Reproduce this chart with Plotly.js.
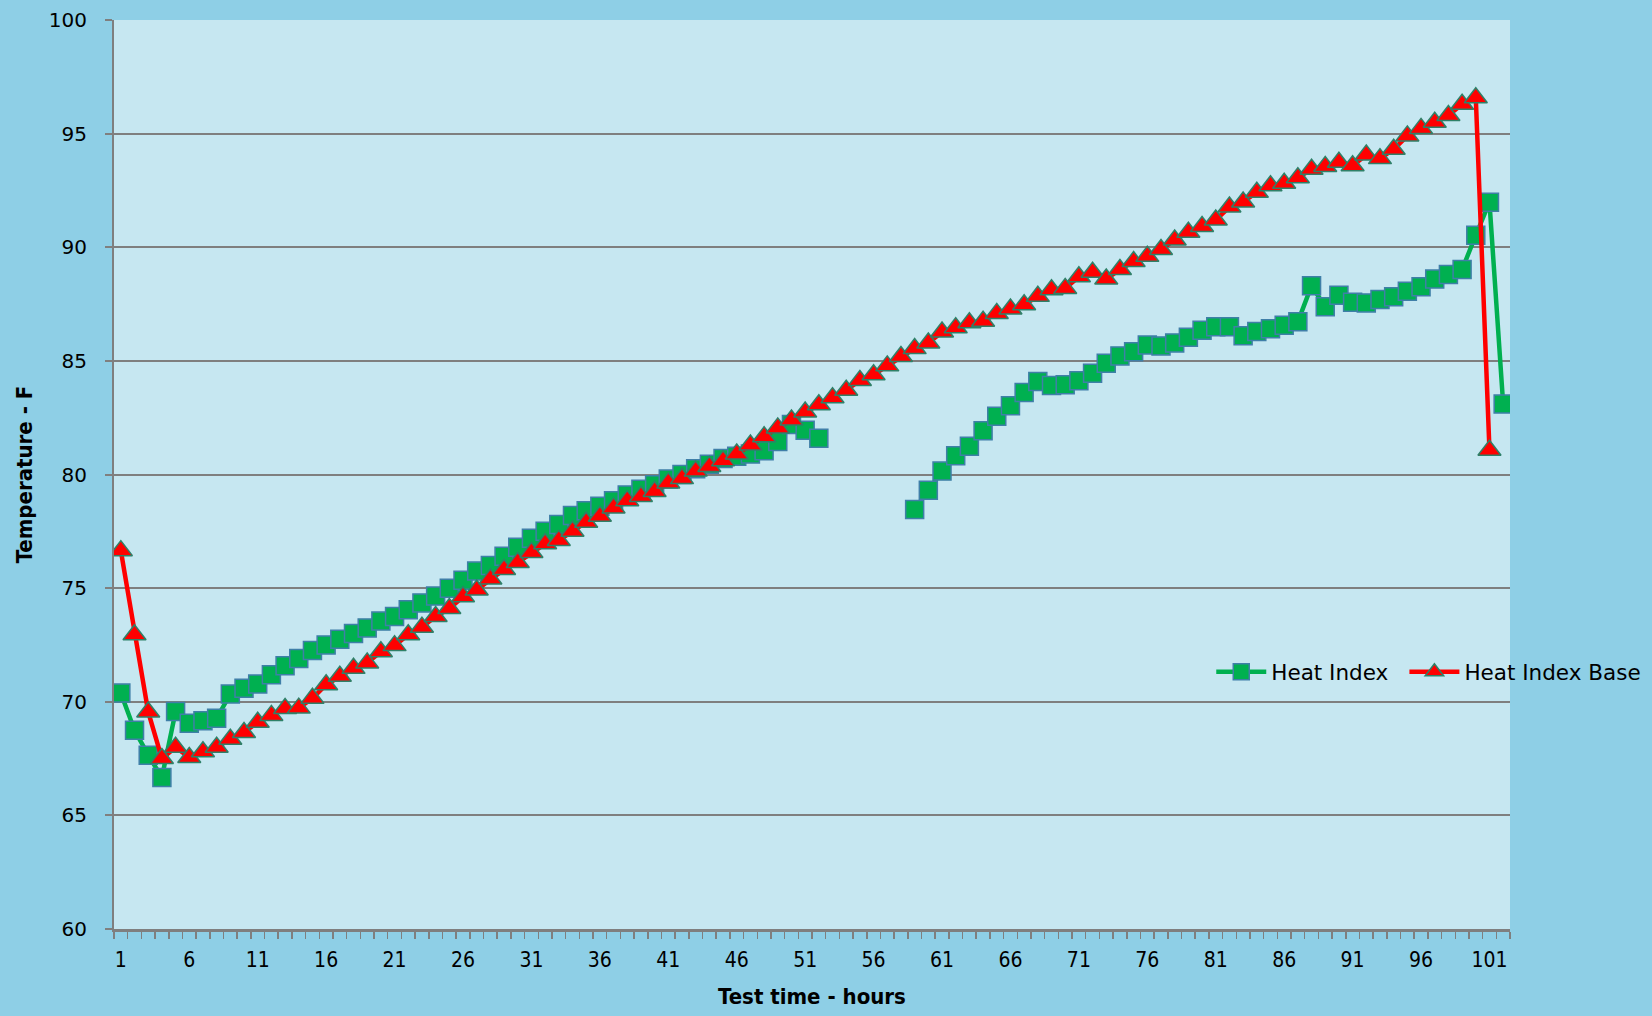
<!DOCTYPE html>
<html>
<head>
<meta charset="utf-8">
<script src="https://cdn.plot.ly/plotly-3.0.1.min.js"></script>
<style>
  html, body { margin: 0; padding: 0; background: #8ECFE6; }
  #chart { width: 1652px; height: 1016px; }
</style>
</head>
<body>
<div id="chart"></div>
<script>
// Test time - hours (categories)
const hours = [1,2,3,4,5,6,7,8,9,10,11,12,13,14,15,16,17,18,19,20,
  21,22,23,24,25,26,27,28,29,30,31,32,33,34,35,36,37,38,39,40,
  41,42,43,44,45,46,47,48,49,50,51,52,53,54,55,56,57,58,59,60,
  61,62,63,64,65,66,67,68,69,70,71,72,73,74,75,76,77,78,79,80,
  81,82,83,84,85,86,87,88,89,90,91,92,93,94,95,96,97,98,99,100,
  101,102];

// Heat Index (green squares)
const heatIndex = [70.38,68.75,67.65,66.67,69.57,69.05,69.16,69.27,70.34,70.59,
  70.78,71.19,71.58,71.9,72.25,72.5,72.75,73.0,73.25,73.55,
  73.75,74.05,74.35,74.65,75.0,75.35,75.75,76.0,76.4,76.8,
  77.2,77.5,77.8,78.2,78.4,78.6,78.85,79.1,79.35,79.55,
  79.8,80.0,80.25,80.45,80.7,80.8,80.9,81.05,81.45,82.2,
  81.95,81.6,null,null,null,null,null,null,78.46,79.31,
  80.15,80.83,81.24,81.93,82.56,83.03,83.61,84.09,83.92,83.95,
  84.12,84.46,84.9,85.22,85.4,85.7,85.66,85.79,86.04,86.35,
  86.5,86.5,86.11,86.29,86.41,86.57,86.72,88.31,87.38,87.89,
  87.58,87.55,87.7,87.82,88.06,88.26,88.6,88.8,89.02,90.53,
  91.98,83.1];

// Heat Index Base (red triangles)
const heatIndexBase = [76.65,72.95,69.55,67.5,68.0,67.55,67.8,68.0,68.35,68.65,
  69.1,69.4,69.7,69.72,70.15,70.75,71.12,71.47,71.71,72.2,
  72.47,72.95,73.28,73.75,74.1,74.62,74.92,75.4,75.82,76.13,
  76.57,76.95,77.1,77.5,77.9,78.16,78.53,78.85,79.03,79.25,
  79.63,79.82,80.15,80.35,80.6,80.9,81.3,81.66,82.05,82.4,
  82.75,83.07,83.38,83.71,84.14,84.39,84.78,85.19,85.54,85.79,
  86.27,86.46,86.68,86.74,87.09,87.28,87.47,87.84,88.13,88.19,
  88.7,88.9,88.6,89.02,89.37,89.6,89.9,90.32,90.66,90.91,
  91.2,91.77,91.99,92.42,92.71,92.82,93.06,93.43,93.55,93.74,
  93.59,94.06,93.9,94.31,94.9,95.23,95.5,95.8,96.29,96.58,
  81.07,null];

// Tick labels
const xTickLabels = [1,6,11,16,21,26,31,36,41,46,51,56,61,66,71,76,81,86,91,96,101];
const yTickLabels = [60,65,70,75,80,85,90,95,100];

const narrowFont = "'Liberation Sans Narrow', 'DejaVu Sans Condensed', Roboto, 'Liberation Sans', sans-serif";

const traces = [
  {
    x: hours, y: heatIndex, name: 'Heat Index\u00A0\u2009',
    type: 'scatter', mode: 'lines+markers',
    line: { color: '#00B050', width: 4.5 },
    marker: { symbol: 'square', size: 18, color: '#00B050',
              line: { color: '#3F7FA8', width: 1.5 } },
    connectgaps: false
  },
  {
    x: hours, y: heatIndexBase, name: 'Heat Index Base',
    type: 'scatter', mode: 'lines+markers',
    line: { color: '#FF0000', width: 4.5 },
    marker: { symbol: 'triangle-up', size: 20, color: '#FF0000',
              line: { color: '#2F8068', width: 1.5 } },
    connectgaps: false
  }
];

const layout = {
  width: 1652, height: 1016,
  paper_bgcolor: '#8ECFE6',
  plot_bgcolor: '#C6E7F1',
  margin: { l: 114, r: 142, t: 20, b: 87, autoexpand: false },
  showlegend: true,
  legend: {
    orientation: 'h', x: 0.786, xanchor: 'left', y: 0.283, yanchor: 'middle',
    bgcolor: 'rgba(0,0,0,0)',
    font: { family: 'DejaVu Sans', size: 21.5, color: '#000000' },
    itemwidth: 50
  },
  xaxis: {
    type: 'linear',
    range: [0.5, 102.5],
    tickmode: 'array', tickvals: xTickLabels, ticktext: xTickLabels.map(String),
    ticks: '', ticklabelstandoff: 10,
    minor: { tick0: 0.5, dtick: 1, ticks: 'outside', ticklen: 7, tickwidth: 1.5, tickcolor: '#7F7F7F', showgrid: false },
    showgrid: false, zeroline: false,
    showline: true, linecolor: '#7F7F7F', linewidth: 3,
    tickfont: { family: narrowFont, size: 21, color: '#000000' },
    title: { text: 'Test time - hours', standoff: 18,
             font: { family: narrowFont, size: 22, color: '#000000', weight: 'bold' } }
  },
  yaxis: {
    range: [60, 100],
    tickmode: 'array', tickvals: yTickLabels, ticktext: yTickLabels.map(String),
    ticks: 'outside', ticklen: 7, tickwidth: 2, tickcolor: '#7F7F7F',
    ticklabelstandoff: 14,
    showgrid: true, gridcolor: '#7F7F7F', gridwidth: 2,
    zeroline: false,
    showline: true, linecolor: '#7F7F7F', linewidth: 2,
    tickfont: { family: 'DejaVu Sans', size: 20, color: '#000000' },
    title: { text: 'Temperature - F', standoff: 10,
             font: { family: narrowFont, size: 22, color: '#000000', weight: 'bold' } }
  }
};

Plotly.newPlot('chart', traces, layout, { displayModeBar: false, staticPlot: true });
</script>
</body>
</html>
